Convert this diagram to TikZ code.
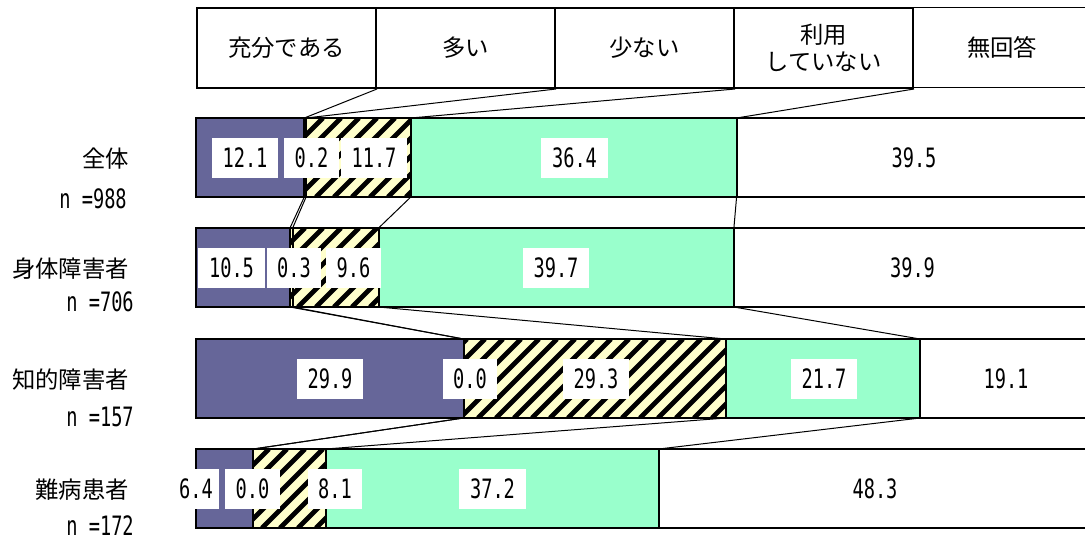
\documentclass[tikz,border=0pt]{standalone}
\usepackage{fontspec}
\newfontfamily\jpfont{Noto Sans CJK JP}
\newfontfamily\numfont[FakeStretch=0.70]{DejaVu Sans Mono}
\definecolor{purp}{HTML}{666699}
\definecolor{mint}{HTML}{99FFCC}
\definecolor{cream}{HTML}{FFFFCC}
\tikzset{
 hdr/.style={draw, line width=1.5pt, minimum width=134.25pt, minimum height=60pt, anchor=north west, inner sep=0pt, align=center, font=\jpfont\fontsize{17.5pt}{20pt}\selectfont},
 rowname/.style={anchor=east, inner sep=0pt, font=\jpfont\fontsize{17.5pt}{20pt}\selectfont},
 nlab/.style={anchor=east, inner sep=0pt, font=\numfont\fontsize{20pt}{20pt}\selectfont},
 val/.style={fill=white, inner xsep=7.9pt, inner ysep=0pt, minimum height=30pt, font=\numfont\fontsize{20pt}{20pt}\selectfont},
 segk/.style={draw=black, line width=1.6pt},
 segw/.style={draw=black, line width=1.2pt},
 conn/.style={draw=black, line width=0.75pt},
 stripe/.style={line width=3.6pt, black},
}
\newcommand\mkrow[6]{%
 \pgfmathsetmacro\xa{196+8.95*(#3)}%
 \pgfmathsetmacro\xb{196+8.95*(#3+#4)}%
 \pgfmathsetmacro\xc{196+8.95*(#3+#4+#5)}%
 \pgfmathsetmacro\xd{196+8.95*(#3+#4+#5+#6)}%
 \pgfmathsetmacro\yt{#2}%
 \pgfmathsetmacro\yb{#2+79}%
 \path[segw, fill=white] (\xd,\yt) rectangle (1091,\yb);
 \path[segk, fill=mint] (\xc,\yt) rectangle (\xd,\yb);
 \begin{scope}
  \clip (\xa,\yt) rectangle (\xc,\yb);
  \fill[cream] (\xa,\yt) rectangle (\xc,\yb);
  \foreach \s in {100,118,...,1100} {\draw[stripe] (\s,\yb) -- ({\s+79},\yt);}
 \end{scope}
 \path[segk] (\xa,\yt) rectangle (\xb,\yb);
 \path[segk] (\xb,\yt) rectangle (\xc,\yb);
 \path[segk, fill=purp] (196,\yt) rectangle (\xa,\yb);
 \coordinate (#1b1t) at (\xa,\yt); \coordinate (#1b1b) at (\xa,\yb);
 \coordinate (#1b2t) at (\xb,\yt); \coordinate (#1b2b) at (\xb,\yb);
 \coordinate (#1b3t) at (\xc,\yt); \coordinate (#1b3b) at (\xc,\yb);
 \coordinate (#1b4t) at (\xd,\yt); \coordinate (#1b4b) at (\xd,\yb);
}
\begin{document}
\begin{tikzpicture}[x=0.75pt,y=-0.75pt]
\useasboundingbox (0,0) rectangle (1085,544);
\clip (0,0) rectangle (1085,544);
\fill[white] (0,0) rectangle (1085,544);

% header
\node[hdr] (h1) at (196,7) {充分である};
\node[hdr] (h2) at (375,7) {多い};
\node[hdr] (h3) at (554,7) {少ない};
\node[hdr] (h4) at (733,7) {利用\\していない};
\node[hdr, line width=1pt] (h5) at (912,7) {無回答};

% rows
\mkrow{r1}{118}{12.1}{0.2}{11.7}{36.4}
\mkrow{r2}{228}{10.5}{0.3}{9.6}{39.7}
\mkrow{r3}{339}{29.9}{0.0}{29.3}{21.7}
\mkrow{r4}{449}{6.4}{0.0}{8.1}{37.2}

% connectors
\draw[conn] (h1.south east) -- (r1b1t);
\draw[conn] (h2.south east) -- (r1b2t);
\draw[conn] (h3.south east) -- (r1b3t);
\draw[conn] (h4.south east) -- (r1b4t);
\foreach \k in {1,2,3,4}{
 \draw[conn] (r1b\k b) -- (r2b\k t);
 \draw[conn] (r2b\k b) -- (r3b\k t);
 \draw[conn] (r3b\k b) -- (r4b\k t);
}

% row names
\node[rowname] (l1) at (129,159) {全体};
\node[nlab] (n1) at (127,199) {n =988};
\node[rowname] (l2) at (129,269) {身体障害者};
\node[nlab] (n2) at (134,302) {n =706};
\node[rowname] (l3) at (129,380) {知的障害者};
\node[nlab] (n3) at (134,417) {n =157};
\node[rowname] (l4) at (129,490) {難病患者};
\node[nlab] (n4) at (134,526) {n =172};

% values
\node[val] (v11) at (245,158) {12.1};
\node[val] (v12) at (311.5,158) {0.2};
\node[val] (v13) at (374,158) {11.7};
\node[val] (v14) at (574.5,158) {36.4};
\node[val] (v15) at (914,158) {39.5};

\node[val] (v21) at (231.5,268) {10.5};
\node[val] (v22) at (294,268) {0.3};
\node[val] (v23) at (353.5,268) {9.6};
\node[val] (v24) at (556,268) {39.7};
\node[val] (v25) at (912.5,268) {39.9};

\node[val] (v31) at (330,379) {29.9};
\node[val] (v32) at (470,379) {0.0};
\node[val] (v33) at (596,379) {29.3};
\node[val] (v34) at (824,379) {21.7};
\node[val] (v35) at (1006,379) {19.1};

\node[val, inner xsep=4.5pt] (v41) at (196,489) {6.4};
\node[val] (v42) at (252.5,489) {0.0};
\node[val] (v43) at (335,489) {8.1};
\node[val] (v44) at (492.5,489) {37.2};
\node[val] (v45) at (875,489) {48.3};
\end{tikzpicture}
\end{document}
